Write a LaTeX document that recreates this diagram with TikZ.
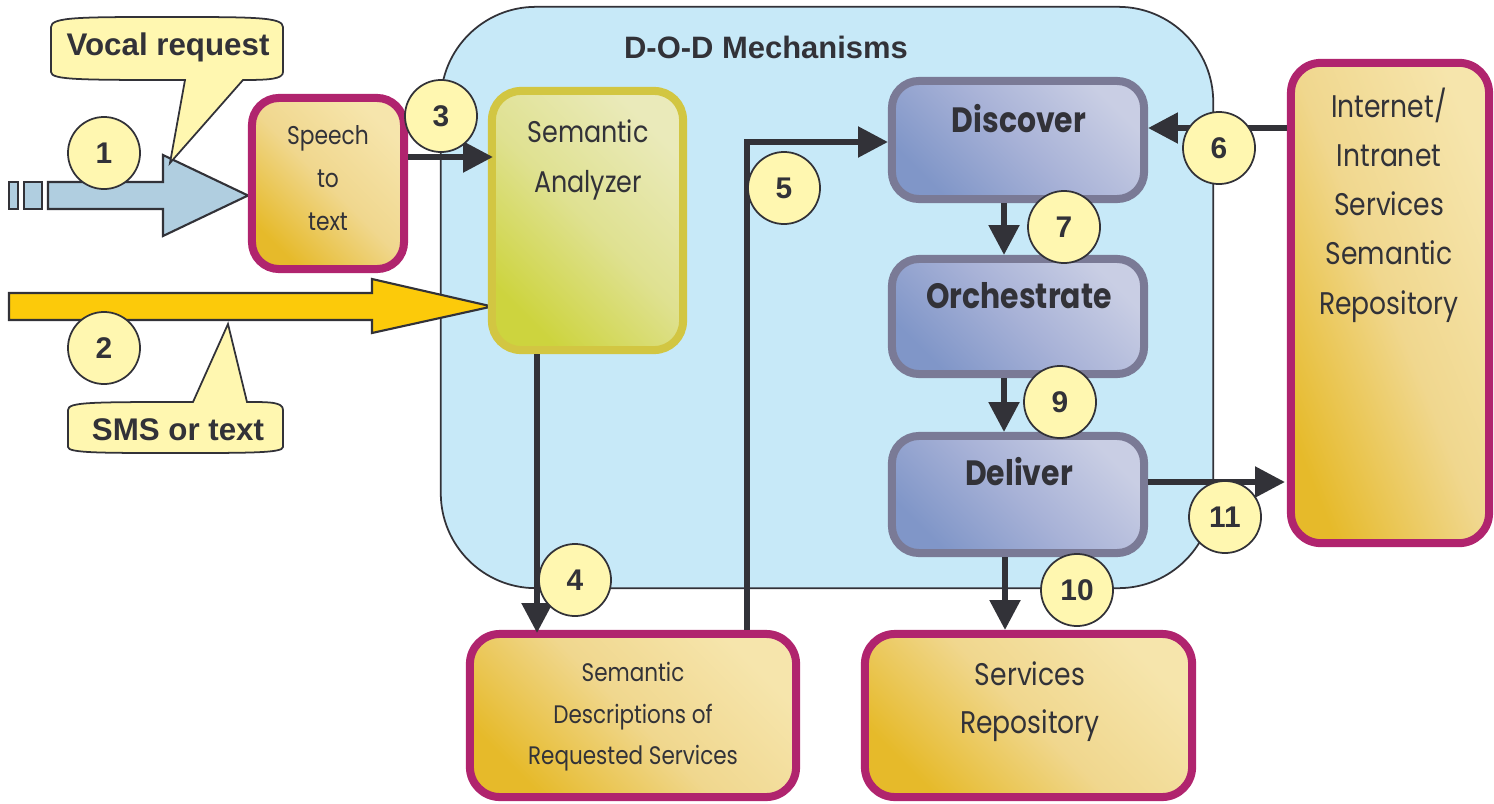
\documentclass[tikz,border=0pt]{standalone}
\usepackage{fontspec}
\setmainfont{Liberation Sans}
\newfontfamily\futura{Poppins}[FakeStretch=0.85]
\usepackage{tikz}
\definecolor{dodsky}{RGB}{199,233,248}
\definecolor{dodink}{RGB}{50,50,56}
\definecolor{dodmagenta}{RGB}{176,36,110}
\definecolor{dodgolddark}{RGB}{230,186,42}
\definecolor{dodgoldmid}{RGB}{240,215,142}
\definecolor{dodgoldlight}{RGB}{246,229,172}
\definecolor{dodolive}{RGB}{210,198,66}
\definecolor{dodolivedark}{RGB}{205,212,62}
\definecolor{dodolivemid}{RGB}{223,225,145}
\definecolor{dodolivelight}{RGB}{234,234,186}
\definecolor{dodslate}{RGB}{122,122,150}
\definecolor{dodslatedark}{RGB}{128,150,200}
\definecolor{dodslatemid}{RGB}{168,178,215}
\definecolor{dodslatelight}{RGB}{201,206,228}
\definecolor{dodcream}{RGB}{255,247,176}
\definecolor{dodvoice}{RGB}{176,206,224}
\definecolor{dodsms}{RGB}{252,202,10}
\usetikzlibrary{positioning}
\usetikzlibrary{calc}
\usetikzlibrary{arrows.meta}
\tikzset{area/.style={
    draw=dodink, line width=0.5pt, fill=dodsky,
    rounded corners=0.95cm, minimum width=7.72cm, minimum height=5.81cm,
  },
  goldbox/.style={
    draw=dodmagenta, line width=2.28pt, rounded corners=0.27cm, inner sep=0pt,
    top color=dodgoldlight, bottom color=dodgolddark, middle color=dodgoldmid,
    shading angle=-45,
  },
  olivebox/.style={
    draw=dodolive, line width=2.28pt, rounded corners=0.29cm, inner sep=0pt,
    top color=dodolivelight, bottom color=dodolivedark, middle color=dodolivemid,
    shading angle=-45,
  },
  slatebox/.style={
    draw=dodslate, line width=2.28pt, rounded corners=0.27cm, inner sep=0pt,
    minimum width=2.52cm,
    top color=dodslatelight, bottom color=dodslatedark, middle color=dodslatemid,
    shading angle=-45,
  },
  lbl/.style 2 args={
    text=dodink, align=center, inner sep=0pt,
    font=\futura\fontsize{#1}{#2}\selectfont
  },
  boldlbl/.style={
    text=dodink, inner sep=0pt,
    font=\futura\bfseries\fontsize{10}{12}\selectfont
  },
  heading/.style={
    text=dodink, inner sep=0pt,
    font=\bfseries\fontsize{#1}{11}\selectfont
  },
  callout/.style={draw=dodink, line width=0.5pt, fill=dodcream},
  inarrow/.style={draw=dodink, line width=0.6pt},
  conn/.style={draw=dodink, line width=1.6pt, -{Triangle[length=8.5pt,width=8.5pt]}},
  num/.style={
    circle, draw=dodink, line width=0.5pt, fill=dodcream, minimum size=0.72cm,
    inner sep=0pt, text=dodink, font=\bfseries\fontsize{8.5}{10}\selectfont
  }
}
\begin{document}
\begin{tikzpicture}[x=0.01cm,y=-0.01cm]
  \useasboundingbox (0,0) rectangle (1494,803);
  % D-O-D area
  \node[area] (dod) at (827,297.5) {};
  \node[heading=8.8] (dodtitle) at (766,47) {D-O-D Mechanisms};
  % inputs
  \draw[inarrow,fill=dodvoice] (9,182) rectangle (18,209);
  \draw[inarrow,fill=dodvoice] (24,182) rectangle (42,209);
  \draw[inarrow,fill=dodvoice] (48,182) -- (163,182) -- (163,155) -- (248,195.5)
    -- (163,236) -- (163,209) -- (48,209) -- cycle;
  \draw[inarrow,fill=dodsms] (9,293) -- (372,293) -- (372,279) -- (492,306.5)
    -- (372,333) -- (372,320) -- (9,320) -- cycle;
  \draw[callout] (51,72) -- (51,27) .. controls (51,17) and (80,17) .. (167,17)
    .. controls (254,17) and (283,17) .. (283,27) -- (283,72)
    .. controls (283,79) and (270,80) .. (243,80) -- (170,163) -- (185,80)
    .. controls (80,80) and (51,80) .. (51,72) -- cycle;
  \node[heading=8.9] (vocal) at (168,47) {Vocal request};
  \draw[callout] (68,447) -- (68,410) .. controls (68,402) and (90,402) .. (193,402)
    -- (228,324) -- (247,402) .. controls (270,402) and (283,402) .. (283,410)
    -- (283,447) .. controls (283,453) and (250,453) .. (176,453)
    .. controls (100,453) and (68,453) .. (68,447) -- cycle;
  \node[heading=8.9] (sms) at (178,430) {SMS or text};
  % boxes
  \node[goldbox,minimum width=1.52cm,minimum height=1.71cm] (stt) at (328,183.5) {};
  \node[lbl={7.3}{12.2}] (stttxt) at (328,178) {Speech\\to\\text};
  \node[olivebox,minimum width=1.91cm,minimum height=2.59cm] (sa) at (587.5,220.5) {};
  \node[lbl={8.5}{14.2}] (satxt) at (588,160) {Semantic\\Analyzer};
  \node[slatebox,minimum height=1.18cm] (disc) at (1018,140) {};
  \node[boldlbl] (disctxt) at (1019,119) {Discover};
  \node[slatebox,minimum height=1.15cm] (orch) at (1018,316.5) {};
  \node[boldlbl] (orchtxt) at (1019,296) {Orchestrate};
  \node[slatebox,minimum height=1.17cm] (deliv) at (1018,494.5) {};
  \node[boldlbl] (delivtxt) at (1019,472) {Deliver};
  \node[goldbox,rounded corners=0.3cm,shading angle=-68,minimum width=1.98cm,minimum height=4.8cm] (inet) at (1390,303) {};
  \node[lbl={8.9}{14}] (inettxt) at (1389,205) {Internet/\\Intranet\\Services\\Semantic\\Repository};
  \node[goldbox,rounded corners=0.3cm,minimum width=3.26cm,minimum height=1.63cm] (desc) at (633,715.5) {};
  \node[lbl={7.2}{11.8}] (desctxt) at (633,717) {Semantic\\Descriptions of\\Requested Services};
  \node[goldbox,rounded corners=0.3cm,minimum width=3.27cm,minimum height=1.63cm] (srep) at (1028.5,715.5) {};
  \node[lbl={8.9}{13.7}] (sreptxt) at (1030,702) {Services\\Repository};
  % flow
  \draw[conn] ($(stt.east)+(0,-26.5)$) -- ($(sa.west)+(5,-63.5)$);
  \draw[conn] ($(sa.south)+(-50.5,0)$) -- ($(desc.north)+(-96,3)$);
  \draw[conn] ($(desc.north)+(114,0)$) |- ($(disc.west)+(0,2)$);
  \draw[conn] ($(inet.west)+(0,-175)$) -- ($(disc.east)+(0,-12)$);
  \draw[conn] ($(disc.south)+(-14,0)$) -- ($(orch.north)+(-14,0)$);
  \draw[conn] ($(orch.south)+(-14,0)$) -- ($(deliv.north)+(-14,0)$);
  \draw[conn] ($(deliv.south)+(-13,0)$) -- ($(srep.north)+(-23.5,0)$);
  \draw[conn] ($(deliv.east)+(0,-12.5)$) -- ($(inet.west)+(-2,179)$);
  % step numbers
  \node[num] (n1) at (104,153) {1};
  \node[num] (n2) at (104,348) {2};
  \node[num] (n3) at (441,116) {3};
  \node[num] (n4) at (575,580) {4};
  \node[num] (n5) at (784,188) {5};
  \node[num] (n6) at (1219,148) {6};
  \node[num] (n7) at (1064,227) {7};
  \node[num] (n9) at (1060,402) {9};
  \node[num] (n10) at (1077,590) {10};
  \node[num] (n11) at (1225,517) {11};
\end{tikzpicture}
\end{document}
